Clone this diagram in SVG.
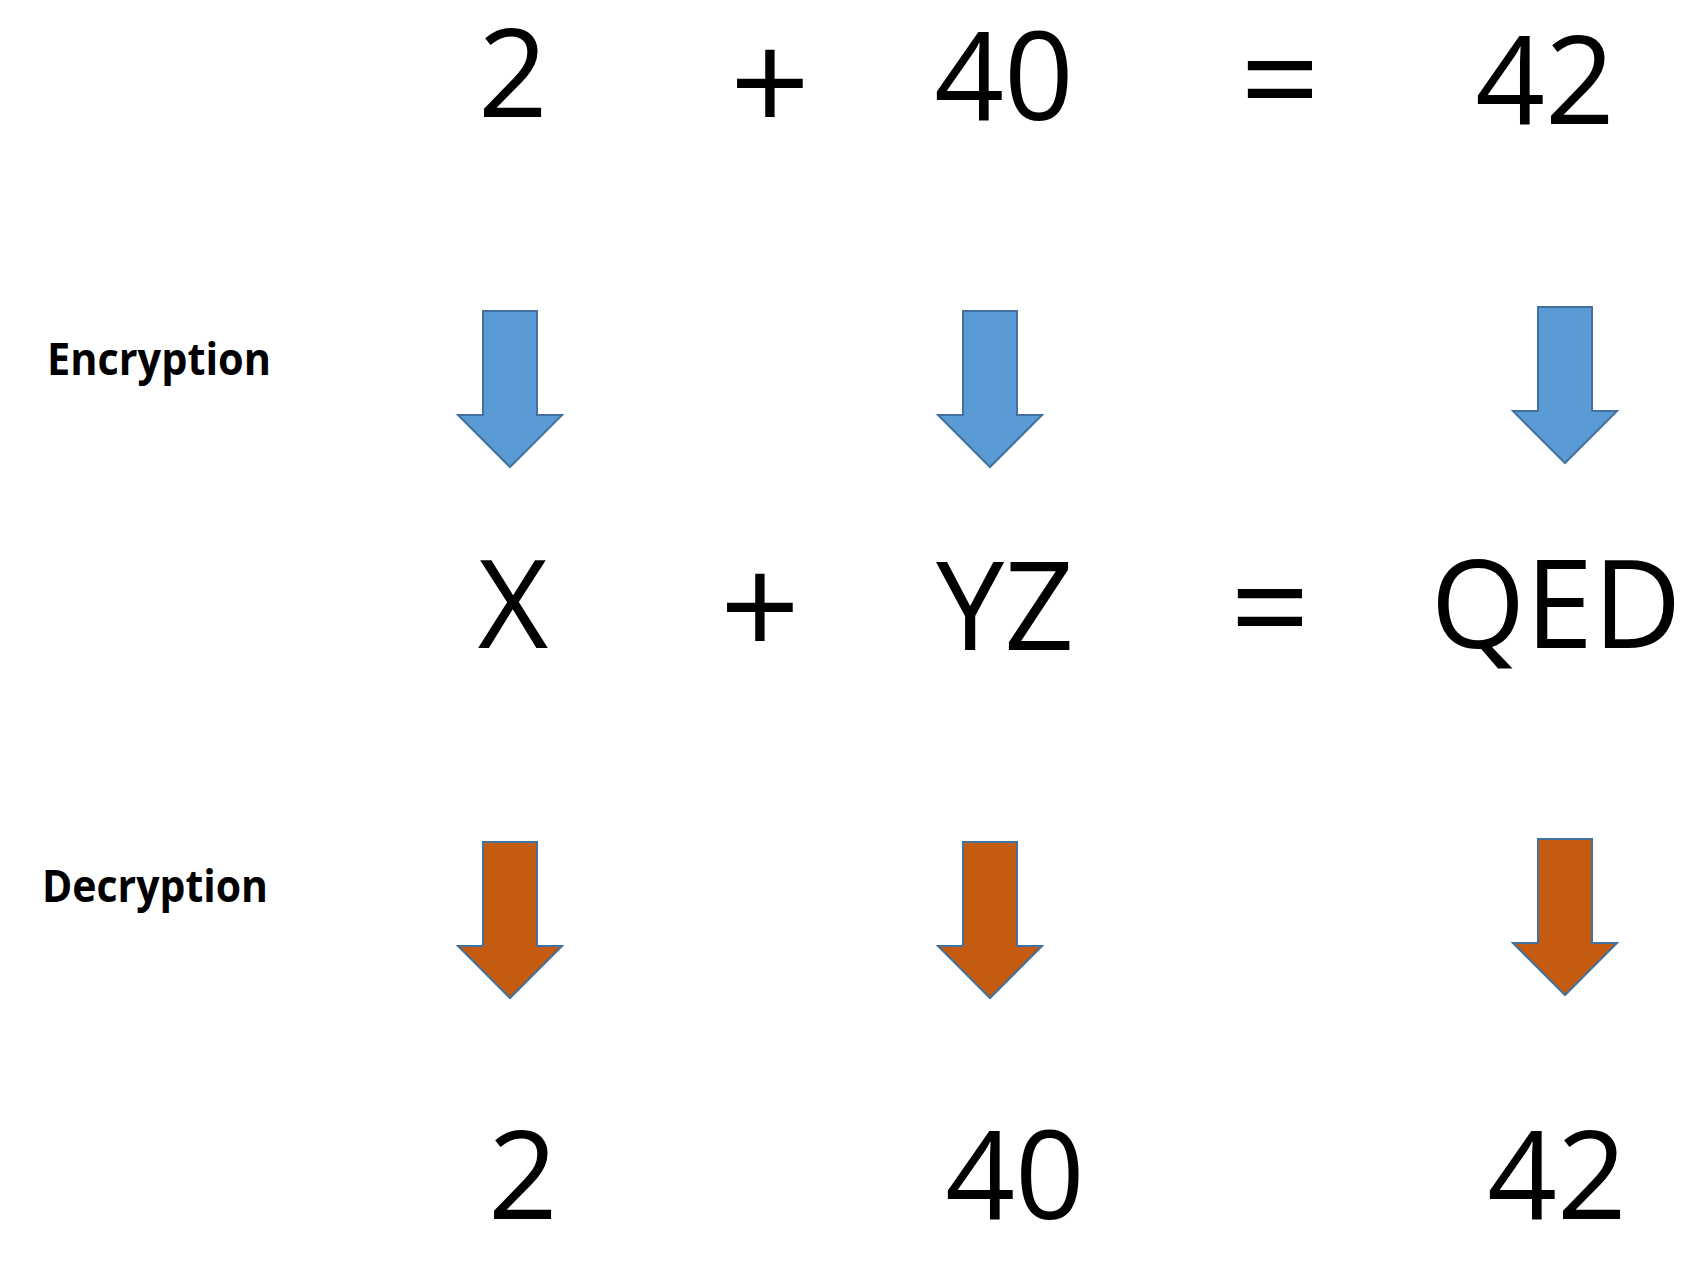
<svg xmlns="http://www.w3.org/2000/svg" width="1707" height="1265" viewBox="0 0 1707 1265">
<style>
.big{font-family:"Open Sans","Noto Sans","Liberation Sans",sans-serif;font-size:122px;fill:#000;text-anchor:middle}
.op{font-family:"Open Sans","Noto Sans","Liberation Sans",sans-serif;font-size:140px;fill:#000;text-anchor:middle}
.lbl{font-family:"Open Sans","Noto Sans","Liberation Sans",sans-serif;font-size:44px;font-weight:bold;fill:#000}
.enc{fill:#5B9BD5;stroke:#41719C;stroke-width:2}
.dec{fill:#C55A11;stroke:#41719C;stroke-width:2}
</style>
<defs>
<path id="arr" d="M-27,0 H27 V104 H52 L0,156 L-52,104 H-27 Z"/>
</defs>
<rect width="1707" height="1265" fill="#fff"/>
<g id="row-plain">
<text class="big" x="513" y="117">2</text>
<text class="op" x="770" y="133">+</text>
<text class="big" x="1004" y="120">40</text>
<text class="op" x="1280" y="129">=</text>
<text class="big" x="1545" y="124">42</text>
</g>
<g id="label-encryption"><text class="lbl" x="47" y="375" textLength="224" lengthAdjust="spacingAndGlyphs">Encryption</text></g>
<g id="label-decryption"><text class="lbl" x="42" y="902" textLength="226" lengthAdjust="spacingAndGlyphs">Decryption</text></g>
<g id="connectors">
<use href="#arr" class="enc" x="510" y="311"/>
<use href="#arr" class="enc" x="990" y="311"/>
<use href="#arr" class="enc" x="1565" y="307"/>
<use href="#arr" class="dec" x="510" y="842"/>
<use href="#arr" class="dec" x="990" y="842"/>
<use href="#arr" class="dec" x="1565" y="839"/>
</g>
<g id="row-cipher">
<text class="big" x="513" y="648">X</text>
<text class="op" x="760" y="657">+</text>
<text class="big" x="1005" y="650">YZ</text>
<text class="op" x="1270" y="657">=</text>
<text class="big" x="1556" y="648">QED</text>
</g>
<g id="row-result">
<text class="big" x="523" y="1219">2</text>
<text class="big" x="1015" y="1219">40</text>
<text class="big" x="1557" y="1219">42</text>
</g>
</svg>
